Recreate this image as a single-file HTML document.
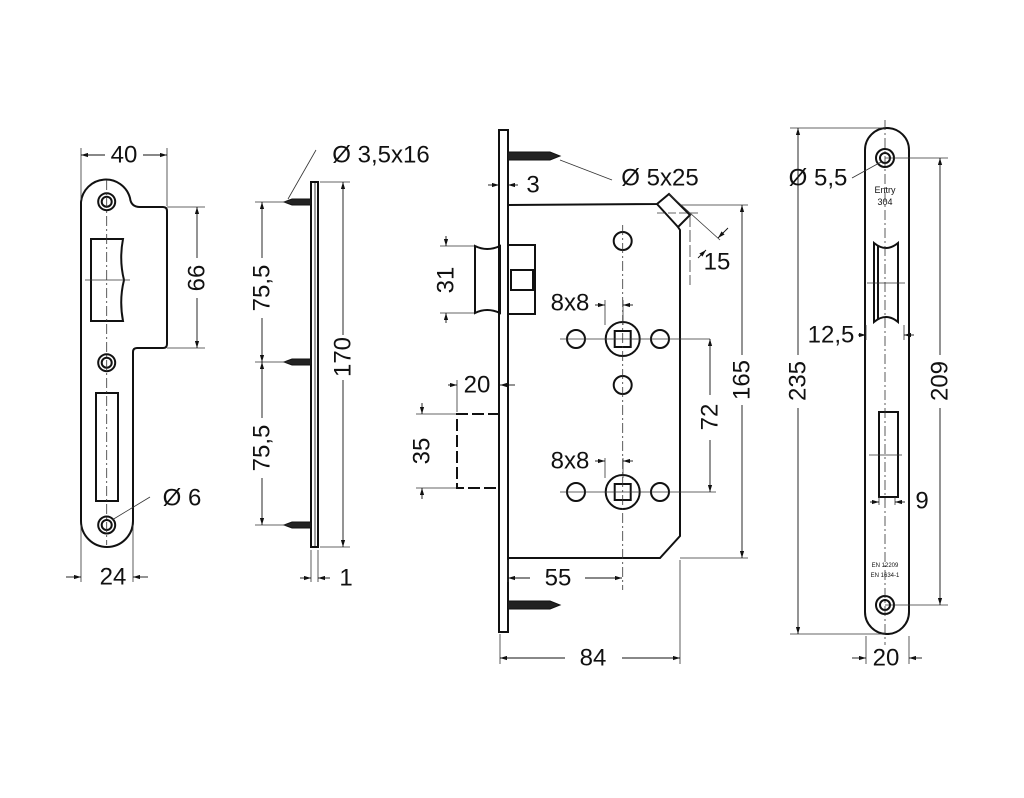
<!DOCTYPE html>
<html><head><meta charset="utf-8"><style>
html,body{margin:0;padding:0;background:#fff}
svg{display:block}
text{font-family:"Liberation Sans",sans-serif;fill:#111}
</style></head><body>
<svg width="1024" height="798" viewBox="0 0 1024 798" xmlns="http://www.w3.org/2000/svg">
<defs>
<marker id="a" viewBox="0 0 10 6" refX="10" refY="3" markerWidth="8" markerHeight="5" orient="auto-start-reverse"><path d="M0,0L10,3L0,6z" fill="#111"/></marker>
</defs>
<g fill="none" stroke="#111" stroke-width="2">
<!-- strike plate -->
<path d="M81,202 A25,25 0 0 1 130,198 Q131,207 140,207 L163,207 Q167,207 167,211 L167,344 Q167,348 163,348 L137,348 Q133,348 133,352 L133,521 A26,26 0 0 1 81,521 Z"/>
<circle cx="106.7" cy="201.7" r="8.5"/><circle cx="106.7" cy="201.7" r="5"/>
<circle cx="106.7" cy="362.7" r="8.5"/><circle cx="106.7" cy="362.7" r="5"/>
<circle cx="106.7" cy="525" r="8.5"/><circle cx="106.7" cy="525" r="5"/>
<path d="M91,239 L123,239 Q119,260 124,280 Q119,300 123,321 L91,321 Z"/>
<rect x="96" y="393" width="22" height="108"/>
<!-- side view plate -->
<rect x="311" y="182" width="7" height="365"/>
<line x1="315" y1="182" x2="315" y2="547" stroke-width="0.8"/>
<!-- mortise -->
<rect x="499" y="130" width="9" height="502"/>
<path d="M508,205 L657,204 L669,194 L690,215 L678,227 L680,230 L680,536 L660,558 L508,558"/>
<path d="M657,204 L678,227"/>
<path d="M475,246 Q487,252 500,246 L500,313 Q487,307 475,313 Z"/>
<rect x="508" y="245" width="27" height="69"/>
<rect x="511" y="270" width="22" height="20"/>
<path d="M500,414 L457,414 L457,488 L500,488" stroke-dasharray="12,4"/>
<circle cx="622.7" cy="339" r="17"/><rect x="614.7" y="331" width="16" height="16"/>
<circle cx="622.7" cy="492" r="17"/><rect x="614.7" y="484" width="16" height="16"/>
<circle cx="576" cy="339" r="9"/><circle cx="660" cy="339" r="9"/>
<circle cx="576" cy="492" r="9"/><circle cx="660" cy="492" r="9"/>
<circle cx="622.7" cy="241" r="9"/><circle cx="622.7" cy="385" r="9"/>
<!-- faceplate right -->
<rect x="865" y="128" width="44" height="506" rx="22"/>
<circle cx="885" cy="158" r="9"/><circle cx="885" cy="158" r="5"/>
<circle cx="885" cy="605" r="9"/><circle cx="885" cy="605" r="5"/>
<path d="M874,243 Q886,253 898,243 L898,322 Q886,312 874,322 Z"/>
<line x1="878" y1="246" x2="878" y2="319"/>
<rect x="879" y="412" width="19" height="85"/>
</g>
<!-- screws -->
<g fill="#222" stroke="#111" stroke-width="1">
<path d="M311,199 L292,199 L284,202 L292,205 L311,205Z"/>
<path d="M311,359 L292,359 L284,362 L292,365 L311,365Z"/>
<path d="M311,522 L292,522 L284,525 L292,528 L311,528Z"/>
<path d="M508,152 L550,152 L560,156 L550,160 L508,160Z"/>
<path d="M508,601 L550,601 L560,605 L550,609 L508,609Z"/>
</g>
<!-- thin dim/center lines -->
<g fill="none" stroke="#333" stroke-width="0.8">
<line x1="81" y1="148" x2="81" y2="200"/><line x1="167" y1="148" x2="167" y2="206"/>
<line x1="81" y1="525" x2="81" y2="582"/><line x1="133" y1="525" x2="133" y2="582"/>
<line x1="167" y1="207" x2="205" y2="207"/><line x1="167" y1="348" x2="205" y2="348"/>
<line x1="106.7" y1="180" x2="106.7" y2="545" stroke-dasharray="10,3,2,3"/>
<line x1="85" y1="280" x2="130" y2="280"/>
<line x1="112" y1="520" x2="150" y2="497"/>
<line x1="255" y1="202" x2="290" y2="202"/><line x1="255" y1="362" x2="290" y2="362"/><line x1="255" y1="525" x2="290" y2="525"/>
<line x1="320" y1="182" x2="350" y2="182"/><line x1="320" y1="547" x2="350" y2="547"/>
<line x1="311" y1="550" x2="311" y2="582"/><line x1="318" y1="550" x2="318" y2="582"/>
<line x1="288" y1="199" x2="316" y2="150"/>
<line x1="560" y1="160" x2="612" y2="180"/>
<line x1="440" y1="246" x2="474" y2="246"/><line x1="440" y1="313" x2="474" y2="313"/>
<line x1="416" y1="414" x2="456" y2="414"/><line x1="416" y1="488" x2="456" y2="488"/>
<line x1="457" y1="380" x2="457" y2="412"/>
<line x1="622.7" y1="225" x2="622.7" y2="590" stroke-dasharray="10,3,2,3"/>
<line x1="560" y1="339" x2="710" y2="339"/><line x1="560" y1="492" x2="716" y2="492"/>
<line x1="605" y1="300" x2="605" y2="325"/><line x1="623" y1="300" x2="623" y2="325"/>
<line x1="605" y1="458" x2="605" y2="478"/><line x1="623" y1="458" x2="623" y2="478"/>
<line x1="680" y1="205" x2="748" y2="205"/><line x1="680" y1="558" x2="748" y2="558"/>
<line x1="690" y1="215" x2="690" y2="285" stroke-dasharray="12,3"/>
<line x1="669" y1="194" x2="720" y2="240"/>
<line x1="657" y1="213" x2="700" y2="213" stroke-dasharray="8,3"/>
<line x1="500" y1="634" x2="500" y2="664"/><line x1="680" y1="560" x2="680" y2="664"/>
<line x1="508" y1="560" x2="508" y2="582"/>
<line x1="790" y1="128" x2="885" y2="128"/><line x1="790" y1="634" x2="885" y2="634"/>
<line x1="885" y1="158" x2="948" y2="158"/><line x1="885" y1="605" x2="948" y2="605"/>
<line x1="885" y1="120" x2="885" y2="645" stroke-dasharray="10,3,2,3"/>
<line x1="867" y1="283" x2="905" y2="283"/><line x1="869" y1="455" x2="902" y2="455"/>
<line x1="866" y1="636" x2="866" y2="664"/><line x1="909" y1="636" x2="909" y2="664"/>
<line x1="852" y1="178" x2="881" y2="162"/>
<line x1="866" y1="325" x2="866" y2="340"/><line x1="904" y1="325" x2="904" y2="340"/>
<line x1="879" y1="497" x2="879" y2="505"/><line x1="895" y1="497" x2="895" y2="505"/>
</g>
<!-- dimension lines with arrows -->
<g fill="none" stroke="#111" stroke-width="0.9" marker-end="url(#a)">
<line x1="105" y1="155" x2="81" y2="155"/><line x1="143" y1="155" x2="167" y2="155"/>
<line x1="197" y1="258" x2="197" y2="207"/><line x1="197" y1="298" x2="197" y2="348"/>
<line x1="66" y1="577" x2="81" y2="577"/><line x1="148" y1="577" x2="133" y2="577"/>
<line x1="262" y1="258" x2="262" y2="202"/><line x1="262" y1="318" x2="262" y2="362"/>
<line x1="262" y1="418" x2="262" y2="362"/><line x1="262" y1="478" x2="262" y2="525"/>
<line x1="343" y1="335" x2="343" y2="182"/><line x1="343" y1="380" x2="343" y2="547"/>
<line x1="300" y1="578" x2="311" y2="578"/><line x1="330" y1="578" x2="318" y2="578"/>
<line x1="488" y1="185" x2="499" y2="185"/><line x1="518" y1="185" x2="508" y2="185"/>
<line x1="446" y1="236" x2="446" y2="246"/><line x1="446" y1="323" x2="446" y2="313"/>
<line x1="422" y1="403" x2="422" y2="414"/><line x1="422" y1="499" x2="422" y2="488"/>
<line x1="448" y1="385" x2="457" y2="385"/><line x1="515" y1="385" x2="500" y2="385"/>
<line x1="595" y1="305" x2="605" y2="305"/><line x1="633" y1="305" x2="623" y2="305"/>
<line x1="595" y1="461" x2="605" y2="461"/><line x1="633" y1="461" x2="623" y2="461"/>
<line x1="710" y1="395" x2="710" y2="339"/><line x1="710" y1="440" x2="710" y2="492"/>
<line x1="742" y1="355" x2="742" y2="205"/><line x1="742" y1="405" x2="742" y2="558"/>
<line x1="530" y1="578" x2="508" y2="578"/><line x1="585" y1="578" x2="622" y2="578"/>
<line x1="565" y1="658" x2="500" y2="658"/><line x1="622" y1="658" x2="680" y2="658"/>
<line x1="728" y1="228" x2="718" y2="238"/><line x1="698" y1="258" x2="706" y2="250"/>
<line x1="798" y1="355" x2="798" y2="128"/><line x1="798" y1="408" x2="798" y2="634"/>
<line x1="940" y1="355" x2="940" y2="158"/><line x1="940" y1="408" x2="940" y2="605"/>
<line x1="858" y1="335" x2="866" y2="335"/><line x1="914" y1="335" x2="904" y2="335"/>
<line x1="870" y1="502" x2="879" y2="502"/><line x1="905" y1="502" x2="895" y2="502"/>
<line x1="852" y1="658" x2="866" y2="658"/><line x1="922" y1="658" x2="909" y2="658"/>
</g>
<!-- labels -->
<g font-size="24" text-anchor="middle" dominant-baseline="central">
<text x="124" y="155">40</text>
<text x="197" y="278" transform="rotate(-90 197 278)">66</text>
<text x="113" y="577">24</text>
<text x="182" y="498">Ø 6</text>
<text x="262" y="288" transform="rotate(-90 262 288)">75,5</text>
<text x="262" y="448" transform="rotate(-90 262 448)">75,5</text>
<text x="343" y="357" transform="rotate(-90 343 357)">170</text>
<text x="346" y="578">1</text>
<text x="381" y="155">Ø 3,5x16</text>
<text x="533" y="185">3</text>
<text x="660" y="178">Ø 5x25</text>
<text x="446" y="280" transform="rotate(-90 446 280)">31</text>
<text x="477" y="385">20</text>
<text x="422" y="451" transform="rotate(-90 422 451)">35</text>
<text x="570" y="303">8x8</text>
<text x="570" y="461">8x8</text>
<text x="710" y="417" transform="rotate(-90 710 417)">72</text>
<text x="742" y="380" transform="rotate(-90 742 380)">165</text>
<text x="717" y="262">15</text>
<text x="558" y="578">55</text>
<text x="593" y="658">84</text>
<text x="818" y="178">Ø 5,5</text>
<text x="798" y="381" transform="rotate(-90 798 381)">235</text>
<text x="940" y="381" transform="rotate(-90 940 381)">209</text>
<text x="831" y="335">12,5</text>
<text x="922" y="501">9</text>
<text x="886" y="658">20</text>
</g>
<g font-size="9" text-anchor="middle">
<text x="885" y="193">Entry</text>
<text x="885" y="205">304</text>
<text x="885" y="567" font-size="6">EN 12209</text>
<text x="885" y="577" font-size="6">EN 1634-1</text>
</g>
</svg>
</body></html>
